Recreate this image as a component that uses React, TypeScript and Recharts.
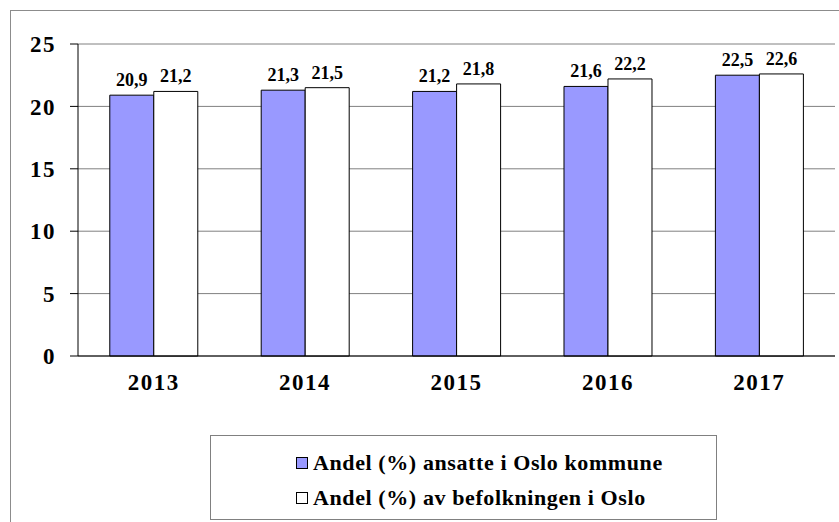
import React from 'react';
import {
  BarChart, Bar, XAxis, YAxis, CartesianGrid, Legend, LabelList,
} from 'recharts';

const YEARS = ['2013', '2014', '2015', '2016', '2017'];
const ANSATTE = [20.9, 21.3, 21.2, 21.6, 22.5];
const BEFOLKNING = [21.2, 21.5, 21.8, 22.2, 22.6];
const Y_TICKS = [0, 5, 10, 15, 20, 25];
const SEPARATORS = [0, 1, 2, 3, 4, 5];

const SERIES = [
  { key: 'ansatte', name: 'Andel (%) ansatte i Oslo kommune', color: '#9999ff' },
  { key: 'befolkning', name: 'Andel (%) av befolkningen i Oslo', color: '#ffffff' },
];

const data = YEARS.map((year, i) => ({
  year,
  ansatte: ANSATTE[i],
  befolkning: BEFOLKNING[i],
}));

const FONT = "'Liberation Serif', 'Times New Roman', Times, serif";
const fmt = (v: number) => v.toFixed(1).replace('.', ',');

function LegendBox() {
  return (
    <div
      style={{
        boxSizing: 'border-box',
        width: '100%',
        height: '100%',
        border: '1px solid #808080',
        background: '#fff',
        padding: '9px 0 0 85px',
        textAlign: 'left',
      }}
    >
      {SERIES.map(s => (
        <div
          key={s.key}
          style={{
            display: 'flex',
            alignItems: 'center',
            height: 35,
            fontFamily: FONT,
            fontWeight: 700,
            fontSize: 22,
            letterSpacing: 0.6,
            color: '#000',
            whiteSpace: 'nowrap',
          }}
        >
          <span
            style={{
              display: 'inline-block',
              width: 10,
              height: 10,
              border: '1px solid #000',
              background: s.color,
              marginRight: 5,
            }}
          />
          <span style={{ fontFamily: FONT }}>{s.name}</span>
        </div>
      ))}
    </div>
  );
}

export default function App() {
  return (
    <div style={{ position: 'absolute', left: 0, top: 0, width: 839, height: 522, background: '#fff', overflow: 'hidden' }}>
      <div
        style={{
          position: 'absolute', left: 10, top: 10, width: 840, height: 530,
          border: '1px solid #8c8c8c', boxSizing: 'border-box',
        }}
      />
      <BarChart
        width={839}
        height={522}
        data={data}
        margin={{ top: 44, right: 4, left: 18, bottom: 126 }}
        barCategoryGap="21%"
        barGap={0}
        style={{ position: 'absolute', left: 0, top: 0 }}
      >
        <CartesianGrid vertical={false} stroke="#808080" />
        <XAxis
          xAxisId="sep"
          type="number"
          domain={[0, 5]}
          ticks={SEPARATORS}
          height={0}
          axisLine={false}
          tickSize={7}
          tickLine={{ stroke: '#000' }}
          tickFormatter={() => ''}
        />
        <XAxis
          dataKey="year"
          height={40}
          axisLine={{ stroke: '#000' }}
          tickLine={false}
          tickMargin={12}
          tick={{ fill: '#000', fontSize: 23, fontWeight: 'bold', fontFamily: FONT, letterSpacing: 1.5 }}
        />
        <YAxis
          width={60}
          domain={[0, 25]}
          ticks={Y_TICKS}
          axisLine={{ stroke: '#000' }}
          tickLine={{ stroke: '#000' }}
          tickSize={8}
          tickMargin={14}
          tick={{ fill: '#000', fontSize: 23, fontWeight: 'bold', fontFamily: FONT, letterSpacing: 1.5 }}
        />
        <Legend
          layout="vertical"
          verticalAlign="middle"
          align="center"
          wrapperStyle={{ left: 210, top: 435, width: 507, height: 85 }}
          content={() => <LegendBox />}
        />
        {SERIES.map(s => (
          <Bar
            key={s.key}
            dataKey={s.key}
            name={s.name}
            fill={s.color}
            stroke="#000"
            strokeWidth={1}
            isAnimationActive={false}
          >
            <LabelList
              dataKey={s.key}
              position="top"
              offset={9}
              formatter={(v: number) => fmt(v)}
              style={{ fill: '#000', fontSize: 18, fontWeight: 'bold', fontFamily: FONT }}
            />
          </Bar>
        ))}
      </BarChart>
    </div>
  );
}
